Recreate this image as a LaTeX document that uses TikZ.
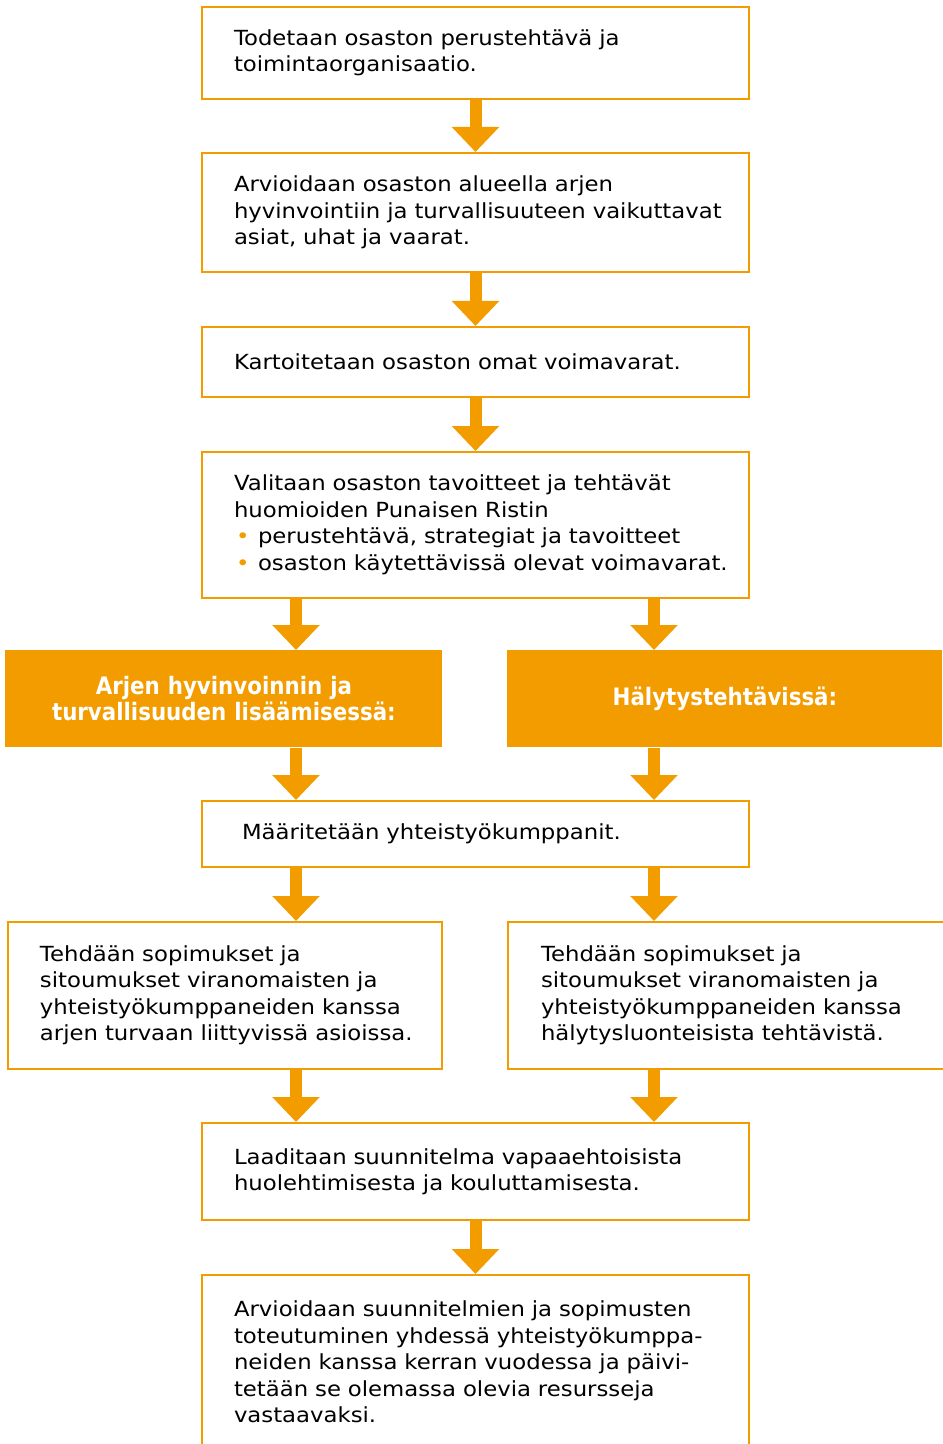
\documentclass[tikz,border=0pt]{standalone}
\usepackage{fontspec}
\setmainfont[FakeStretch=1.095]{DejaVu Sans}
\newfontfamily\headfam[FakeStretch=0.89]{DejaVu Sans}
\usetikzlibrary{arrows.meta}
\definecolor{rcorange}{RGB}{243,156,0}
\newcommand{\bodyfont}{\fontsize{10.4pt}{13.25pt}\selectfont}
\newcommand{\headfont}{\headfam\bfseries\fontsize{12pt}{13pt}\selectfont}
\newcommand{\obullet}{\makebox[12pt][l]{\hspace{1pt}\textcolor{rcorange}{•}}}
\newcommand{\pad}[1][8pt]{\leftskip=#1\relax}
\tikzset{
  box/.style={draw=rcorange, line width=1pt, anchor=north west, inner xsep=8pt,
    inner ysep=0pt, align=left, font=\bodyfont, text=black},
  headbox/.style={fill=rcorange, anchor=north west, inner sep=0pt, align=center,
    font=\headfont, text=white},
  flow/.style={draw=rcorange, line width=6pt, -{Triangle[width=23pt,length=12.5pt]}}
}
\begin{document}
\begin{tikzpicture}[x=0.5pt,y=-0.5pt]
\useasboundingbox (0,0) rectangle (942,1444);
\coordinate (cl) at (296,0);
\coordinate (cr) at (654,0);

\node[box, text width=257.5pt, minimum height=46pt] (b1) at (201,6)
  {\pad Todetaan osaston perustehtävä ja\\toimintaorganisaatio.\par};
\node[box, text width=257.5pt, minimum height=59.5pt] (b2) at (201,152)
  {\pad Arvioidaan osaston alueella arjen\\hyvinvointiin ja turvallisuuteen vaikuttavat\\asiat, uhat ja vaarat.\par};
\node[box, text width=257.5pt, minimum height=35pt] (b3) at (201,326)
  {\pad Kartoitetaan osaston omat voimavarat.\par};
\node[box, text width=257.5pt, minimum height=73pt] (b4) at (201,451)
  {\pad Valitaan osaston tavoitteet ja tehtävät\\huomioiden Punaisen Ristin\\\obullet perustehtävä, strategiat ja tavoitteet\\\obullet osaston käytettävissä olevat voimavarat.\par};

\node[headbox, text width=218.5pt, minimum height=48.5pt] (hl) at (5,650)
  {Arjen hyvinvoinnin ja\\turvallisuuden lisäämisessä:};
\node[headbox, text width=217.5pt, minimum height=48.5pt] (hr) at (507,650)
  {Hälytystehtävissä:};

\node[box, text width=257.5pt, minimum height=33pt] (b5) at (201,800)
  {\pad[12pt]Määritetään yhteistyökumppanit.\par};

\node[box, text width=201pt, minimum height=73.5pt] (sl) at (7,921)
  {\pad Tehdään sopimukset ja\\sitoumukset viranomaisten ja\\yhteistyökumppaneiden kanssa\\arjen turvaan liittyvissä asioissa.\par};
\node[box, text width=202pt, minimum height=73.5pt] (sr) at (507,921)
  {\pad[8.5pt]Tehdään sopimukset ja\\sitoumukset viranomaisten ja\\yhteistyökumppaneiden kanssa\\hälytysluonteisista tehtävistä.\par};

\node[box, text width=257.5pt, minimum height=48.5pt] (b6) at (201,1122)
  {\pad Laaditaan suunnitelma vapaaehtoisista\\huolehtimisesta ja kouluttamisesta.\par};
\node[box, text width=257.5pt, minimum height=87pt] (b7) at (201,1274)
  {\pad Arvioidaan suunnitelmien ja sopimusten\\toteutuminen yhdessä yhteistyökumppa-\\neiden kanssa kerran vuodessa ja päivi-\\tetään se olemassa olevia resursseja\\vastaavaksi.\par};

\draw[flow] (b1.south) -- (b2.north);
\draw[flow] (b2.south) -- (b3.north);
\draw[flow] (b3.south) -- (b4.north);
\draw[flow] (b4.south -| cl) -- (hl.north -| cl);
\draw[flow] (b4.south -| cr) -- (hr.north -| cr);
\draw[flow] (hl.south -| cl) -- (b5.north -| cl);
\draw[flow] (hr.south -| cr) -- (b5.north -| cr);
\draw[flow] (b5.south -| cl) -- (sl.north -| cl);
\draw[flow] (b5.south -| cr) -- (sr.north -| cr);
\draw[flow] (sl.south -| cl) -- (b6.north -| cl);
\draw[flow] (sr.south -| cr) -- (b6.north -| cr);
\draw[flow] (b6.south) -- (b7.north);
\end{tikzpicture}
\end{document}
